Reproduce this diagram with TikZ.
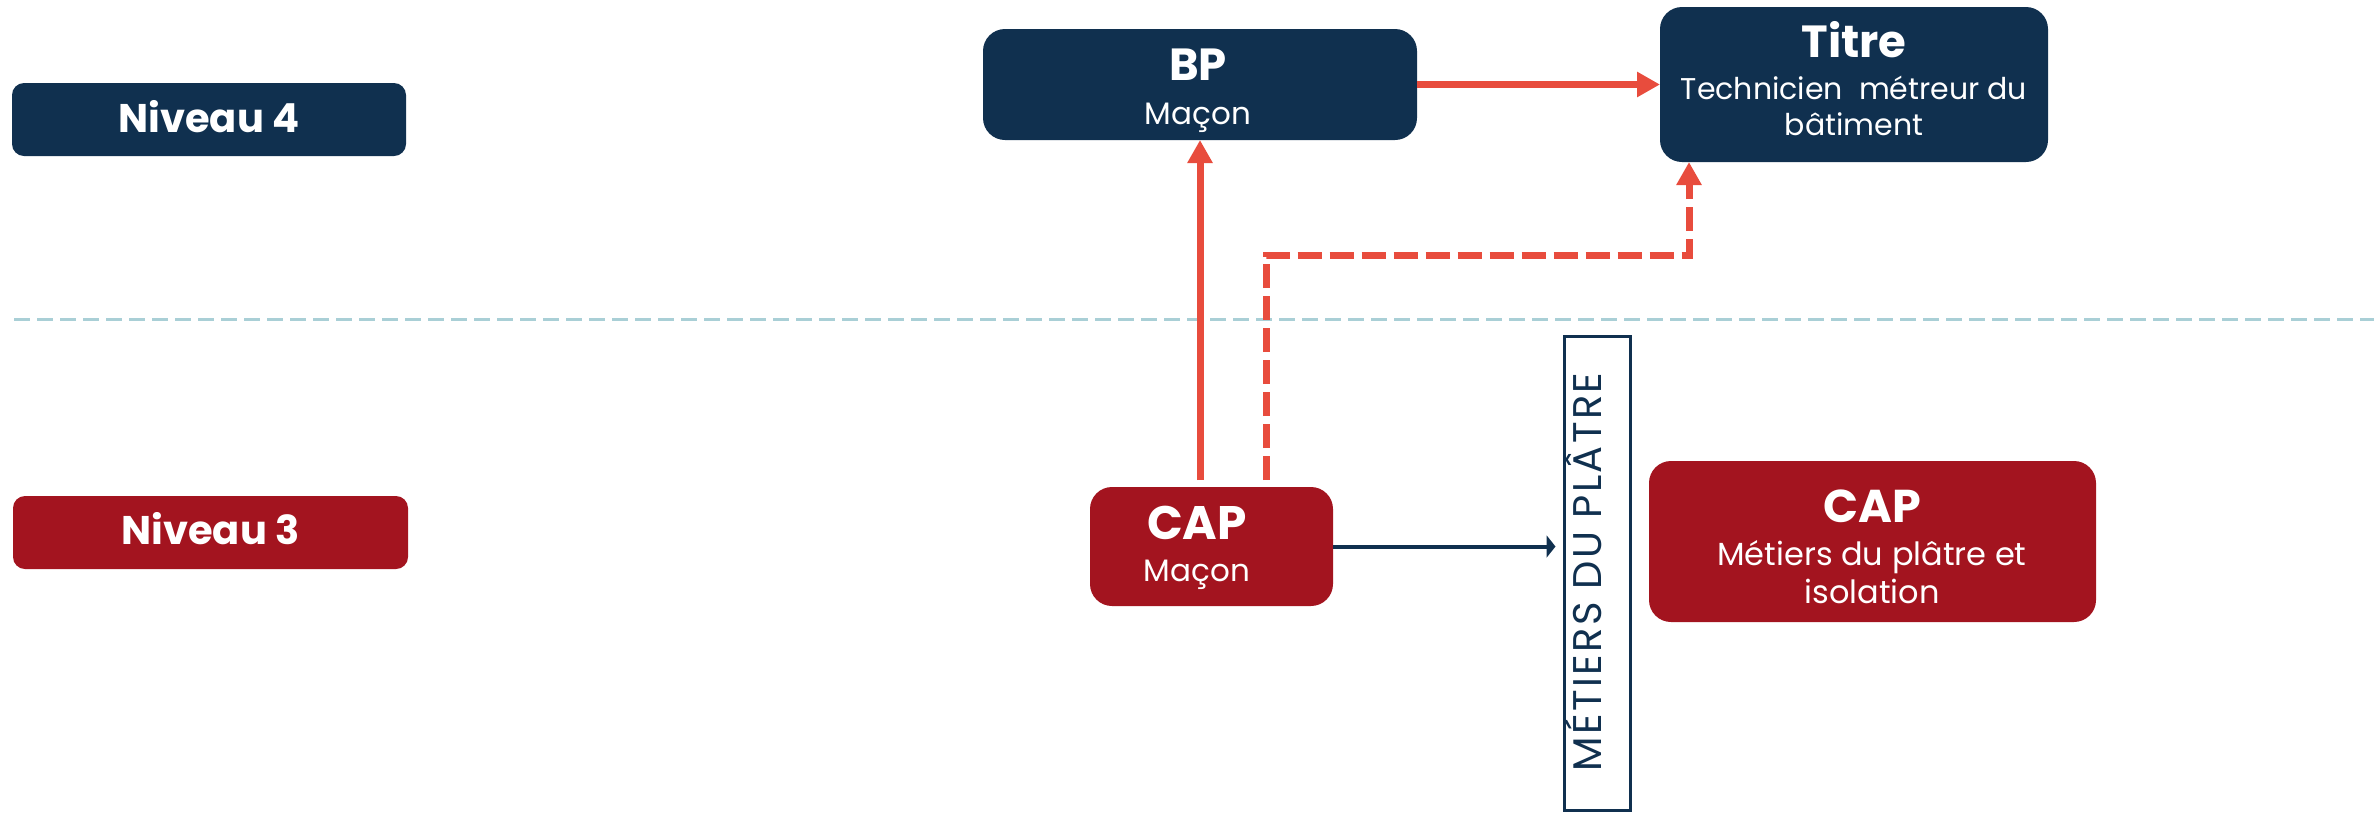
\documentclass[tikz,border=0pt]{standalone}
\usepackage{fontspec}
\setmainfont{Poppins}
\usetikzlibrary{arrows.meta}
\definecolor{navy}{HTML}{10304F}
\definecolor{crimson}{HTML}{A3141F}
\definecolor{flame}{HTML}{E84C3D}
\definecolor{sepline}{HTML}{A9CFD6}
\tikzset{
  levelbox/.style={rounded corners=12pt, inner sep=0pt, outer sep=0pt},
  diplbox/.style={rounded corners=22pt, inner sep=0pt, outer sep=0pt},
  navyfill/.style={fill=navy},
  redfill/.style={fill=crimson},
  txt/.style={anchor=base, inner sep=0pt, text=white},
  bigtitle/.style={txt, font=\fontsize{45}{50}\selectfont\bfseries},
  subtitle/.style={txt, font=\fontsize{31}{36}\selectfont},
  leveltxt/.style={txt, font=\fontsize{40}{46}\selectfont\bfseries},
  redarrow/.style={draw=flame, line width=7pt, -{Triangle[length=23pt,width=24pt]}},
  navyarrow/.style={draw=navy, line width=4pt, -{Triangle[length=9pt,width=22pt]}},
}
\begin{document}
\begin{tikzpicture}[x=1pt,y=-1pt]
\useasboundingbox (0,0) rectangle (2374,812);

% separator
\coordinate (sepA) at (14,319.5);
\coordinate (sepB) at (2374,319.5);
\draw[sepline, line width=3.6pt, dash pattern=on 16pt off 7pt] (sepA) -- (sepB);

% level boxes
\node[levelbox, navyfill, minimum width=394pt, minimum height=73pt] (n4) at (209,119.5) {};
\node[leveltxt] (n4t) at (209,132) {Niveau 4};
\node[levelbox, redfill, minimum width=395pt, minimum height=73pt] (n3) at (210.5,532.5) {};
\node[leveltxt] (n3t) at (210.5,544) {Niveau 3};

% BP
\node[diplbox, navyfill, minimum width=434pt, minimum height=111pt] (bp) at (1200,84.5) {};
\node[bigtitle] (bpt) at (1198,80) {BP};
\node[subtitle] (bps) at (1198,124) {Maçon};

% Titre
\node[diplbox, navyfill, minimum width=388pt, minimum height=155pt] (titre) at (1854,84.5) {};
\node[bigtitle] (tit) at (1854,57) {Titre};
\node[subtitle, font=\fontsize{30}{34}\selectfont] (tis1) at (1854,99) {Technicien\ \ métreur du};
\node[subtitle, font=\fontsize{30}{34}\selectfont] (tis2) at (1854,135) {bâtiment};

% CAP Macon
\node[diplbox, redfill, minimum width=243pt, minimum height=119pt] (capm) at (1211.5,546.5) {};
\node[bigtitle, font=\fontsize{47}{52}\selectfont\bfseries] (capmt) at (1197,539) {CAP};
\node[subtitle] (capms) at (1197,581) {Maçon};

% CAP Metiers du platre
\node[diplbox, redfill, minimum width=447pt, minimum height=161pt] (capp) at (1872.5,541.5) {};
\node[bigtitle, font=\fontsize{46}{52}\selectfont\bfseries] (cappt) at (1872,522) {CAP};
\node[subtitle, font=\fontsize{32}{36}\selectfont] (capps1) at (1872,565) {Métiers du plâtre et};
\node[subtitle, font=\fontsize{32}{36}\selectfont] (capps2) at (1872,603) {isolation};

% vertical label box
\node[draw=navy, fill=white, line width=3pt, inner sep=0pt, minimum width=66pt, minimum height=474pt] (vbox) at (1597,573) {};
\node[anchor=base, inner sep=0pt, rotate=90, text=navy, font=\fontsize{40}{46}\selectfont\addfontfeature{LetterSpace=6}] (vlab) at (1601,572) {MÉTIERS DU PLÂTRE};

% connectors
\draw[redarrow] (bp.east) -- (titre.west);
\draw[redarrow, shorten <=7pt] (capm.north -| bp.south) -- (bp.south);
\coordinate (dk) at (1266,255.5);
\coordinate (tin) at (1689,162);
\draw[redarrow, dash pattern=on 24pt off 8pt, shorten <=7pt] (capm.north -| dk) -- (dk) -| (tin);
\draw[navyarrow, shorten >=7pt] (capm.east) -- (capm.east -| vbox.west);
\end{tikzpicture}
\end{document}
